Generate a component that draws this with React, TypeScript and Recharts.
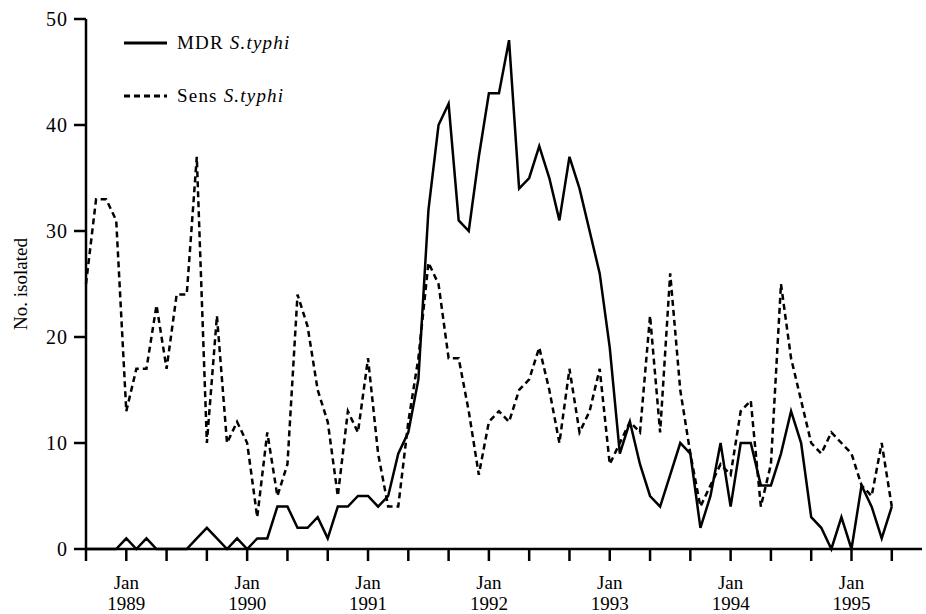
import { LineChart, Line, XAxis, YAxis, Legend } from "recharts";

const SERIF = "Liberation Serif";

// Monthly counts, Sep 1988 .. May 1995
const mdrCounts = [
  0, 0, 0, 0, 1, 0, 1, 0, 0, 0, 0, 1, 2, 1, 0, 1, 0, 1, 1, 4,
  4, 2, 2, 3, 1, 4, 4, 5, 5, 4, 5, 9, 11, 16, 32, 40, 42, 31, 30, 37,
  43, 43, 48, 34, 35, 38, 35, 31, 37, 34, 30, 26, 19, 9, 12, 8, 5, 4, 7, 10,
  9, 2, 5, 10, 4, 10, 10, 6, 6, 9, 13, 10, 3, 2, 0, 3, 0, 6, 4, 1,
  4,
];
const sensCounts = [
  25, 33, 33, 31, 13, 17, 17, 23, 17, 24, 24, 37, 10, 22, 10, 12, 10, 3, 11, 5,
  8, 24, 21, 15, 12, 5, 13, 11, 18, 9, 4, 4, 12, 18, 27, 25, 18, 18, 13, 7,
  12, 13, 12, 15, 16, 19, 15, 10, 17, 11, 13, 17, 8, 10, 12, 11, 22, 11, 26, 15,
  9, 4, 6, 8, 7, 13, 14, 4, 8, 25, 18, 14, 10, 9, 11, 10, 9, 6, 5, 10,
  4,
];

const yTicks = [0, 10, 20, 30, 40, 50];
const xTicks = [0, 4, 8, 12, 16, 20, 24, 28, 32, 36, 40, 44, 48, 52, 56, 60, 64, 68, 72, 76, 80];
const janTicks = [4, 16, 28, 40, 52, 64, 76];
const janYears = ["1989", "1990", "1991", "1992", "1993", "1994", "1995"];

const seriesKeys = ["mdr", "sens"];
const seriesPrefixes = ["MDR", "Sens"];
const species = "S.typhi";

const data = mdrCounts.map((v, i) => ({ month: i, mdr: v, sens: sensCounts[i] }));

function MonthTick(props: any) {
  const { x, y, payload } = props;
  const k = janTicks.indexOf(payload.value);
  if (k < 0) return <g />;
  return (
    <g fontFamily={SERIF} fontSize={19} fill="#000">
      <text x={x} y={y + 26} textAnchor="middle">Jan</text>
      <text x={x} y={y + 47} textAnchor="middle">{janYears[k]}</text>
    </g>
  );
}

function LegendBox(props: any) {
  const { payload } = props;
  if (!payload) return null;
  return (
    <div style={{ fontFamily: SERIF, fontSize: 19, color: "#000", letterSpacing: 1.2 }}>
      {payload.map((entry: any) => {
        const k = seriesKeys.indexOf(entry.dataKey);
        return (
          <div
            key={entry.dataKey}
            style={{ display: "flex", alignItems: "center", height: 53 }}
          >
            <svg width={43} height={6}>
              <line
                x1={0}
                y1={3}
                x2={43}
                y2={3}
                stroke="#000"
                strokeWidth={3}
                strokeDasharray={k === 1 ? "6 4" : undefined}
              />
            </svg>
            <span style={{ marginLeft: 10 }}>
              {seriesPrefixes[k]} <i>{species}</i>
            </span>
          </div>
        );
      })}
    </div>
  );
}

export default function App() {
  return (
    <div style={{ position: "absolute", left: 0, top: 0, background: "#fff" }}>
      <LineChart
        width={926}
        height={614}
        data={data}
        margin={{ top: 19, right: 4, bottom: 0, left: 0 }}
      >
        <XAxis
          dataKey="month"
          type="number"
          domain={[0, 83]}
          ticks={xTicks}
          interval={0}
          height={65}
          tickSize={12}
          tick={<MonthTick />}
          axisLine={{ stroke: "#000", strokeWidth: 2.5 }}
          tickLine={{ stroke: "#000", strokeWidth: 2.5 }}
        />
        <YAxis
          domain={[0, 50]}
          ticks={yTicks}
          interval={0}
          width={86}
          tickSize={12}
          tickMargin={6}
          tick={{ fill: "#000", fontSize: 20, fontFamily: SERIF, letterSpacing: 1 }}
          axisLine={{ stroke: "#000", strokeWidth: 2.5 }}
          tickLine={{ stroke: "#000", strokeWidth: 2.5 }}
          label={{
            value: "No. isolated",
            angle: -90,
            position: "insideLeft",
            offset: 20,
            style: { textAnchor: "middle", fontSize: 19, fontFamily: SERIF, fill: "#000" },
          }}
        />
        <Legend
          layout="vertical"
          align="center"
          verticalAlign="middle"
          wrapperStyle={{ left: 124, top: 16 }}
          content={<LegendBox />}
        />
        <Line
          type="linear"
          dataKey="mdr"
          name="MDR S.typhi"
          stroke="#000"
          strokeWidth={2.5}
          dot={false}
          isAnimationActive={false}
        />
        <Line
          type="linear"
          dataKey="sens"
          name="Sens S.typhi"
          stroke="#000"
          strokeWidth={2.5}
          strokeDasharray="6 4"
          dot={false}
          isAnimationActive={false}
        />
      </LineChart>
    </div>
  );
}
